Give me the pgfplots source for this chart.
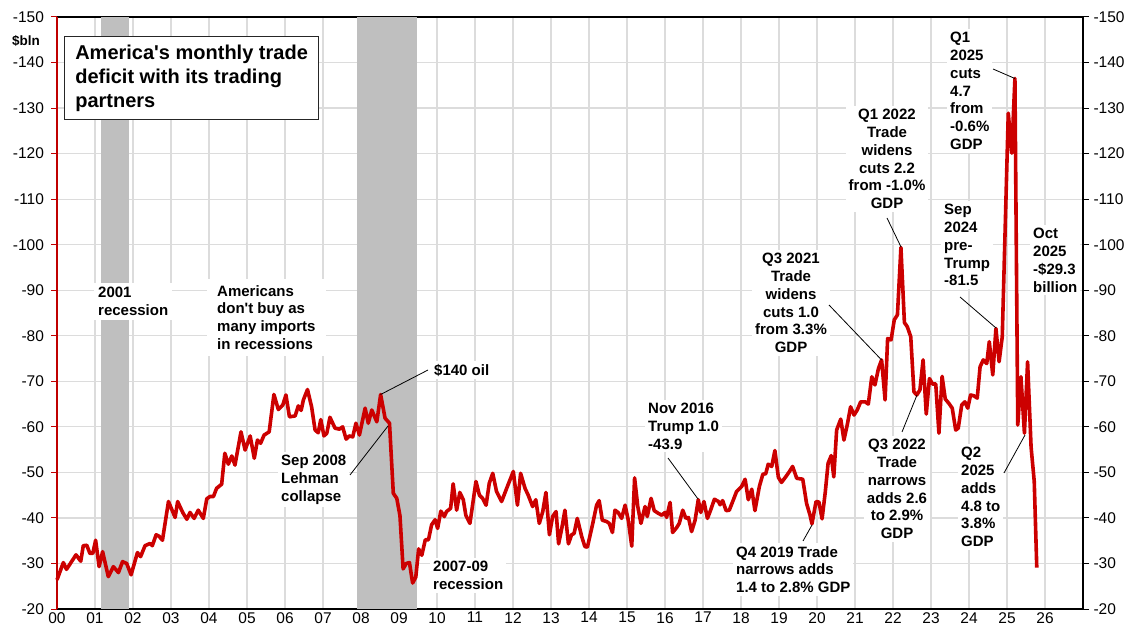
\documentclass[border=0pt]{standalone}
\usepackage{pgfplots}
\pgfplotsset{compat=1.18}
\usepackage{fontspec}
\setmainfont{Liberation Sans}[Ligatures=TeXOff]
\definecolor{linered}{HTML}{CC0000}
\definecolor{spinered}{HTML}{C00000}
\definecolor{band}{HTML}{BFBFBF}
\definecolor{gridc}{HTML}{DCDCDC}
\newcommand{\ann}{\fontsize{15}{17.8}\selectfont\bfseries}
\begin{document}
\begin{tikzpicture}
\path[use as bounding box] (-57pt,-19pt) rectangle (1074pt,609pt);
\begin{axis}[
  at={(0pt,0pt)}, anchor=south west,
  scale only axis, width=1026pt, height=592pt,
  xmin=0, xmax=324, ymin=-150, ymax=-20, y dir=reverse,
  separate axis lines,
  axis x line*=box, axis y line*=left,
  x axis line style={black, line width=1.5pt, -},
  y axis line style={spinered, line width=2pt, -},
  xtick={0,12,...,312},
  xticklabels={00,01,02,03,04,05,06,07,08,09,10,11,12,13,14,15,16,17,18,19,20,21,22,23,24,25,26},
  ytick={-150,-140,...,-20},
  yticklabels={-150,-140,-130,-120,-110,-100,-90,-80,-70,-60,-50,-40,-30,-20},
  tick align=outside,
  major tick length=6pt,
  xtick style={draw=none},
  ytick style={spinered, line width=1pt},
  ytick pos=left,
  grid=major,
  grid style={gridc, line width=1.3pt},
  tick label style={font=\fontsize{15.5}{18}\selectfont},
  yticklabel style={xshift=-3.5pt},
  xticklabel style={yshift=4pt, inner ysep=1pt},
  clip=false,
]
\addplot[fill=band, draw=none, forget plot] coordinates {(13.8,-150) (22.7,-150) (22.7,-20) (13.8,-20)} -- cycle;
\addplot[fill=band, draw=none, forget plot] coordinates {(94.8,-150) (113.6,-150) (113.6,-20) (94.8,-20)} -- cycle;
\addplot[linered, line width=3.6pt, line join=round, no markers] coordinates {
(0,-26.4) (2,-30.2) (3,-28.7) (6,-31.9) (7.5,-30.5) (8.3,-33.9) (9.4,-34) (10.4,-32.2) (11.3,-32.2)
(12.2,-35.1) (13.3,-29.3) (14.4,-32.6) (16.2,-27.1) (17.8,-29.3) (19.4,-28) (20.7,-30.4) (22,-30) (23.4,-27.5)
(25.4,-32.4) (26.4,-31.5) (27.8,-33.9) (29.4,-34.4) (30.1,-33.9) (31.3,-36.3) (32.2,-36) (33.3,-35.1)
(35.2,-43.6) (37.3,-40.1) (38.1,-43.6) (39.7,-41.2) (41,-39.7) (42,-41.2) (43.3,-39.9) (44.6,-41.7) (46.2,-39.9)
(47.3,-44.2) (48.3,-44.7) (49.4,-44.7) (50.4,-46.5) (52,-47.4) (53,-54.2) (54.1,-51.8) (55.2,-53.6) (56.2,-51.6)
(58.1,-58.9) (59.4,-54.9) (61,-58) (62.3,-53.1) (63.3,-57.1) (64.3,-56.4) (65.4,-58.2) (67,-58.9) (68.5,-67.1)
(69.9,-63.8) (71.3,-64.8) (72.3,-67) (73.4,-62.2) (75.2,-62.4) (76.2,-64.6) (77.1,-63.6) (77.8,-65.9) (79.1,-68.2)
(80.4,-64.4) (81.5,-59.3) (82.5,-58.7) (83.3,-61.6) (84.3,-58) (85.2,-58.6) (86.2,-62.1) (87.8,-59.7) (89.2,-59.5)
(90.2,-60) (91.3,-57.3) (92.3,-58) (93.4,-57.8) (94.4,-60.8) (95.5,-58.2) (97.3,-64.1) (98.3,-60.8) (99.4,-63.7)
(101,-61.1) (102.2,-67.1) (103.6,-61.9) (105,-60.8) (106.2,-45.4) (107.3,-44.3) (108.3,-40.5)
(109.3,-28.8) (110.3,-30) (111.3,-30.2) (112.3,-25.7) (113.3,-27) (114.2,-33.2) (115.2,-31.8) (116.3,-35.2)
(117.3,-35.2) (118.3,-38.5) (119.4,-39.6) (120.2,-37.7) (121.2,-41.5) (122.3,-40.3) (123,-41.4) (124.3,-42.1)
(125.1,-47.5) (126.2,-41.7) (127.2,-45.6) (128.3,-44) (129.1,-40.6) (130.4,-38.8) (132.3,-48) (133.4,-45)
(134.4,-44.3) (135.5,-42.8) (136.5,-47.6) (137.6,-49.8) (138.8,-45.8) (140.4,-43.6) (142,-46.5) (144.1,-50.2)
(145.4,-42.8) (146.4,-49.8) (147.8,-46.5) (148.8,-45) (150.2,-42.5) (151.2,-44) (152.3,-38.8) (153.4,-41.4)
(154.4,-45.6) (155.5,-36.3) (156.5,-40.3) (157.6,-41.4) (158.4,-34.3) (159.4,-37.7) (160.4,-41.7) (161.5,-34.3)
(162.5,-36.3) (163.3,-36.6) (164.3,-39.9) (165.7,-35.9) (166.7,-33.7) (167.5,-33.6) (169.1,-38.5) (170.4,-42.8)
(171.2,-43.8) (172.2,-39.5) (173.6,-39.2) (174.4,-38.8) (175.4,-36.8) (176.2,-41.7) (177.2,-41.2) (178.3,-39.9)
(179.4,-42.8) (180.4,-39.5) (181.5,-33.8) (182.4,-48.8) (183.4,-42.5) (184.4,-38.8) (185.7,-42.5) (186.4,-40.3)
(187.6,-44.3) (188.6,-41.6) (189.9,-41) (191,-40.6) (192,-41.2) (192.5,-40.1) (193.6,-43.4) (194.4,-36.8)
(195.7,-37.9) (196.5,-38.8) (197.6,-41.7) (198.6,-39.9) (199.4,-40.1) (200.4,-37) (201.5,-39.5) (202.5,-44)
(203.3,-41.2) (204.3,-43.6) (205.4,-39.9) (206.4,-41.7) (207.6,-44.1) (208.9,-43.6) (209.4,-42.9) (210.2,-43.8)
(211.3,-41.6) (212.3,-41.7) (213.6,-44) (214.6,-45.8) (216.2,-46.9) (217.3,-48.5) (218.3,-44) (219.4,-46.3)
(220.4,-41.6) (221.8,-46.9) (222.9,-49.6) (223.8,-49.7) (224.6,-51.8) (225.7,-51.3) (226.7,-54.8) (227.8,-48.9)
(228.8,-47.8) (230.2,-49.1) (231.3,-50.2) (232.3,-51.3) (233.6,-48.7) (235.5,-48.5) (236.7,-43.2) (237.8,-40.6)
(238.4,-38.7) (239.7,-43.6) (240.6,-43.5) (241.6,-39.8) (242.6,-45.6) (243.5,-52) (244.5,-53.7) (245.3,-49)
(246.2,-59.3) (247.5,-61.7) (248.5,-57.1) (249.6,-60.6) (250.6,-64.4) (251.7,-62.6) (252.7,-63.7) (253.8,-65.5)
(255.2,-65.5) (256.2,-65) (257.3,-71) (258.3,-69.2) (259.4,-72.8) (260.4,-74.7) (261.5,-65.9) (262.3,-79.4)
(263.4,-79.1) (264.4,-83.5) (265.4,-84.6) (266.5,-99.4) (267.6,-82.9) (268.5,-82) (269.6,-79.8) (270.6,-67.7)
(271.5,-67) (272.5,-68.1) (273.5,-74.7) (274.5,-62.8) (275.5,-70.6) (276.5,-69.4) (277.5,-69.4) (278.5,-58.6)
(279.5,-71.1) (280.5,-66.1) (281.6,-65.2) (282.7,-64.1) (283.8,-59.3) (284.6,-59.7) (285.7,-64.8) (286.7,-65.5)
(287.6,-64.1) (288.5,-67) (289.6,-66.8) (290.6,-66.3) (291.5,-73.2) (292.5,-74.7) (293.6,-73.9) (294.4,-78.7)
(295.5,-71.4) (296.5,-81.6) (297.5,-74.3) (298.5,-79.8) (300.4,-128.9) (301.5,-120.1) (302.5,-136.5)
(303.4,-60.4) (304.4,-71) (305.5,-58.6) (306.5,-74.3) (307.6,-55.6) (308.6,-48) (309.4,-29.1)
};
\end{axis}
\begin{axis}[
  at={(0pt,0pt)}, anchor=south west,
  scale only axis, width=1026pt, height=592pt,
  xmin=0, xmax=324, ymin=-150, ymax=-20, y dir=reverse,
  axis x line=none, axis y line*=right,
  y axis line style={black, line width=1.5pt, -},
  ytick={-150,-140,...,-20},
  yticklabels={-150,-140,-130,-120,-110,-100,-90,-80,-70,-60,-50,-40,-30,-20},
  tick align=outside, major tick length=6pt,
  ytick style={black, line width=1pt},
  tick label style={font=\fontsize{15.5}{18}\selectfont},
  yticklabel style={xshift=1pt},
]
\addplot[draw=none, forget plot] coordinates {(0,-20) (1,-20)};
\end{axis}
% annotations
\node[fill=white, draw=black!85, line width=1.2pt, anchor=north west, minimum width=254pt, minimum height=83pt, align=left, font=\fontsize{20}{24}\selectfont\bfseries] at (7pt,573pt) {America's monthly trade\\deficit with its trading\\partners};
\node[font=\fontsize{13.5}{16}\selectfont\bfseries] at (-31pt,568pt) {\$bln};
\node[fill=white, inner xsep=4pt, inner ysep=4pt, anchor=north west, align=left, font=\ann] at (37pt,326pt) {2001\\recession};
\node[fill=white, inner xsep=10pt, inner ysep=6pt, anchor=north west, align=left, font=\ann] at (150pt,330pt) {Americans\\don't buy as\\many imports\\in recessions};
\node[fill=white, inner sep=3pt, anchor=north west, align=left, font=\ann] at (374pt,248pt) {\$140 oil};
\draw[black, line width=0.8pt] (323.6pt,214.5pt) -- (371pt,239pt);
\node[fill=white, inner sep=3pt, anchor=north west, align=left, font=\ann] at (221pt,157pt) {Sep 2008\\Lehman\\collapse};
\draw[black, line width=0.8pt] (293pt,134pt) -- (331pt,183pt);
\node[fill=white, inner sep=3pt, anchor=north west, align=left, font=\ann] at (373pt,51pt) {2007-09\\recession};
\node[fill=white, inner sep=3pt, anchor=north west, align=left, font=\ann] at (588pt,209pt) {Nov 2016\\Trump 1.0\\-43.9};
\draw[black, line width=0.8pt] (611pt,151pt) -- (641pt,110pt);
\node[fill=white, inner sep=3pt, anchor=north west, align=left, font=\ann] at (676pt,66pt) {Q4 2019 Trade\\narrows adds\\1.4 to 2.8\% GDP};
\draw[black, line width=0.8pt] (746pt,68pt) -- (755pt,84pt);
\node[fill=white, inner sep=3pt, anchor=north, align=center, font=\ann] at (734pt,359pt) {Q3 2021\\Trade\\widens\\cuts 1.0\\from 3.3\%\\GDP};
\draw[black, line width=0.8pt] (772pt,304pt) -- (824.6pt,249pt);
\node[fill=white, inner sep=3pt, anchor=north, align=center, font=\ann] at (830pt,503pt) {Q1 2022\\Trade\\widens\\cuts 2.2\\from -1.0\%\\GDP};
\draw[black, line width=0.8pt] (830pt,391pt) -- (844pt,362pt);
\node[fill=white, inner sep=3pt, anchor=north west, align=left, font=\ann] at (890pt,580pt) {Q1\\2025\\cuts\\4.7\\from\\-0.6\%\\GDP};
\draw[black, line width=0.8pt] (936pt,540pt) -- (957.9pt,530.5pt);
\node[fill=white, inner sep=3pt, anchor=north west, align=left, font=\ann] at (884pt,408pt) {Sep\\2024\\pre-\\Trump\\-81.5};
\draw[black, line width=0.8pt] (903pt,312pt) -- (939pt,281pt);
\node[fill=white, inner sep=3pt, anchor=north west, align=left, font=\ann] at (973pt,384pt) {Oct\\2025\\-\$29.3\\billion};
\node[fill=white, inner sep=3pt, anchor=north, align=center, font=\ann] at (840pt,173pt) {Q3 2022\\Trade\\narrows\\adds 2.6\\to 2.9\%\\GDP};
\draw[black, line width=0.8pt] (845pt,177pt) -- (860pt,214pt);
\node[fill=white, inner sep=3pt, anchor=north west, align=left, font=\ann] at (901pt,165pt) {Q2\\2025\\adds\\4.8 to\\3.8\%\\GDP};
\draw[black, line width=0.8pt] (947pt,136pt) -- (968pt,174pt);
\end{tikzpicture}
\end{document}
